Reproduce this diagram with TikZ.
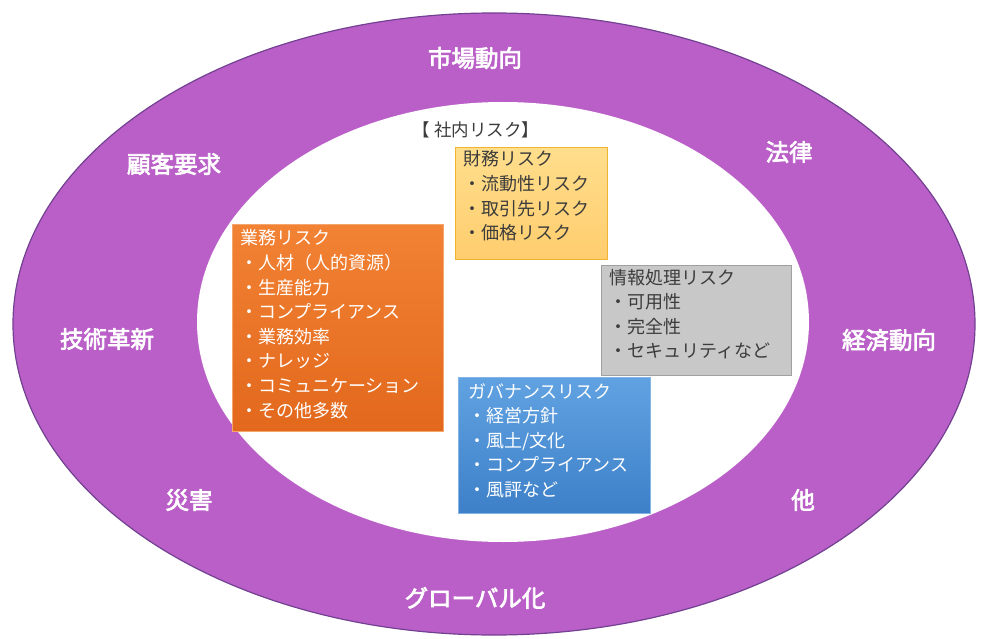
\documentclass[tikz,border=0pt]{standalone}
\usepackage{fontspec}
\usetikzlibrary{shapes.geometric}
\setmainfont{Noto Sans CJK JP}
\newfontfamily\jpb{Noto Sans CJK JP}[FakeBold=3]
\definecolor{ringpurple}{RGB}{186,95,200}
\definecolor{ringedge}{RGB}{115,65,145}
\definecolor{orgtop}{RGB}{242,130,52}
\definecolor{orgbot}{RGB}{226,104,28}
\definecolor{orgedge}{RGB}{245,165,110}
\definecolor{yeltop}{RGB}{255,222,140}
\definecolor{yelbot}{RGB}{255,205,110}
\definecolor{yeledge}{RGB}{240,180,50}
\definecolor{graybox}{RGB}{200,200,200}
\definecolor{grayedge}{RGB}{160,160,160}
\definecolor{blutop}{RGB}{96,162,225}
\definecolor{blubot}{RGB}{62,128,200}
\definecolor{bluedge}{RGB}{130,180,230}
\definecolor{darktext}{RGB}{60,60,60}
\tikzset{
  outerlabel/.style={text=white,font=\jpb\fontsize{23.5}{26}\selectfont,inner sep=0pt},
  riskbox/.style={rectangle,inner sep=0pt,line width=1pt},
  boxtext/.style={anchor=base west,inner sep=0pt},
}
\newcommand{\risklines}[1]{\parbox[t]{200pt}{\raggedright\fontsize{18}{24.6}\selectfont #1}}
\begin{document}
\begin{tikzpicture}[x=1pt,y=-1pt]
\useasboundingbox (0,0) rectangle (983,639);
\fill[white] (0,0) rectangle (983,639);
% rings
\node[ellipse,minimum width=962pt,minimum height=622pt,fill=ringpurple,draw=ringedge,line width=1.2pt,inner sep=0pt] (outer) at (494,324) {};
\node[ellipse,minimum width=612pt,minimum height=440pt,fill=white,inner sep=0pt] (inner) at (503,322) {};
% outer labels
\node[outerlabel] (shijo) at (475,58) {市場動向};
\node[outerlabel] (kokyaku) at (174,164) {顧客要求};
\node[outerlabel] (horitsu) at (789,152) {法律};
\node[outerlabel] (gijutsu) at (107,339) {技術革新};
\node[outerlabel] (keizai) at (889,340) {経済動向};
\node[outerlabel] (saigai) at (189,500) {災害};
\node[outerlabel] (hoka) at (803,500) {他};
\node[outerlabel] (global) at (475,598) {グローバル化};
% title
\node[text=darktext,font=\fontsize{17.5}{19}\selectfont,inner sep=0pt] (shanai) at (476,130) {【 社内リスク】};
% boxes
\node[riskbox,anchor=north west,minimum width=211pt,minimum height=207pt,top color=orgtop,bottom color=orgbot,draw=orgedge] (gyomu) at (232,224) {};
\node[riskbox,anchor=north west,minimum width=152pt,minimum height=112pt,top color=yeltop,bottom color=yelbot,draw=yeledge] (zaimu) at (455,147) {};
\node[riskbox,anchor=north west,minimum width=190pt,minimum height=110pt,fill=graybox,draw=grayedge] (joho) at (601,265) {};
\node[riskbox,anchor=north west,minimum width=192pt,minimum height=136pt,top color=blutop,bottom color=blubot,draw=bluedge] (gov) at (458,377) {};
% box texts
\node[boxtext,text=white] (gyomutext) at (240,245) {\risklines{業務リスク\\・人材（人的資源）\\・生産能力\\・コンプライアンス\\・業務効率\\・ナレッジ\\・コミュニケーション\\・その他多数}};
\node[boxtext,text=darktext] (zaimutext) at (463,166) {\risklines{財務リスク\\・流動性リスク\\・取引先リスク\\・価格リスク}};
\node[boxtext,text=darktext] (johotext) at (609,284) {\risklines{情報処理リスク\\・可用性\\・完全性\\・セキュリティなど}};
\node[boxtext,text=white] (govtext) at (468,398) {\risklines{ガバナンスリスク\\・経営方針\\・風土/文化\\・コンプライアンス\\・風評など}};
\end{tikzpicture}
\end{document}
